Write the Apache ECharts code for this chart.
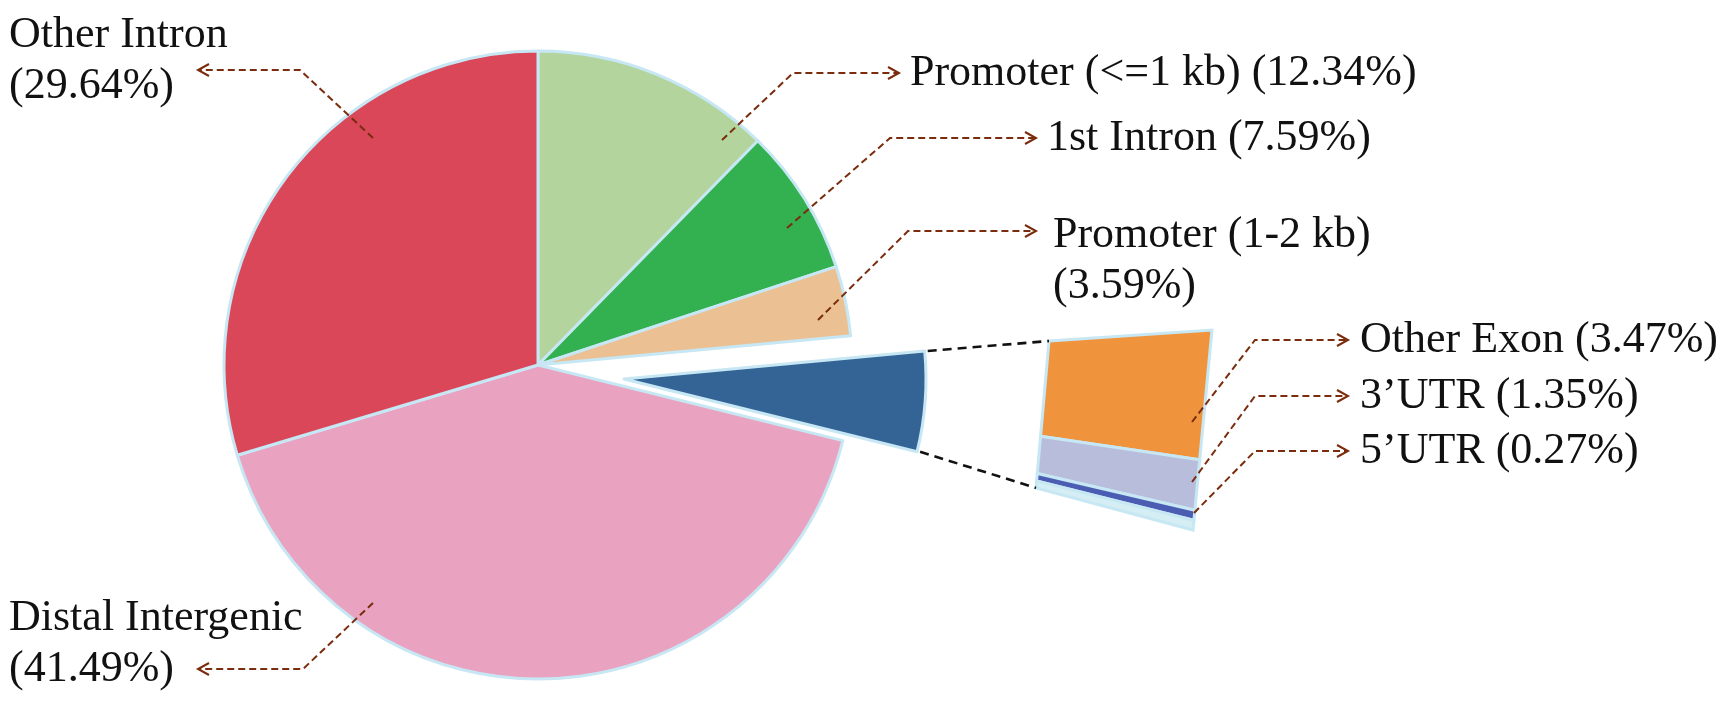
<!DOCTYPE html>
<html><head><meta charset="utf-8">
<script src="https://cdn.jsdelivr.net/npm/echarts@6/dist/echarts.min.js"></script>
<style>html,body{margin:0;padding:0;background:#fff}#c{width:1720px;height:704px}</style>
</head><body><div id="c"></div>
<script>
// ---------------- data ----------------
const pieCategories = ["Promoter (<=1 kb)", "1st Intron", "Promoter (1-2 kb)", "Exon/UTR", "Distal Intergenic", "Other Intron"];
const pieValues = [12.34, 7.59, 3.59, null, 41.49, 29.64];   // null = group, filled from the bar below
const groupIndex = 3;
const barCategories = ["Other Exon", "3’UTR", "5’UTR", ""];
const barValues = [3.47, 1.35, 0.27, 0.26];                  // last: unlabeled remainder at the bar foot

// ---------------- style ----------------
const pieColors = ["#b4d49e", "#33b150", "#ebc093", "#346496", "#e9a3c0", "#d94759"];
const barColors = ["#ef943d", "#b9bddc", "#4a5db3", "#d4eef4"];
const BORDER = "#c6e7f3";
const LEADER = "#7a2c0c";
const FONT = "Liberation Serif";
const FS = 44, LH = 51;
const TWO_LINE = new Set(["Other Intron", "Distal Intergenic", "Promoter (1-2 kb)"]);

const groupValue = barValues.reduce((a, b) => a + b, 0);
const values = pieValues.map((v, i) => i === groupIndex ? +groupValue.toFixed(2) : v);
const total = values.reduce((a, b) => a + b, 0);

// ---------------- layout ----------------
const PIE_CENTER = [538, 365], PIE_RADIUS = 314;
const EXPLODE_CENTER = [624, 379], EXPLODE_RADIUS = 302;
const BAR_BOX = {left: 1035, top: 330, width: 178, height: 200};
const QUAD = {tl: [1049, 341], tr: [1212, 330], br: [1193, 530], bl: [1036, 488]};

const PIE_LABEL_LAYOUT = {
  "Other Intron":      {text: [9, 61],    start: [373, 138], elbow: [300, 70],  tip: [198, 70]},
  "Distal Intergenic": {text: [9, 644],   start: [373, 603], elbow: [303, 669], tip: [198, 669]},
  "Promoter (<=1 kb)": {text: [910, 73],  start: [722, 140], elbow: [793, 73],  tip: [899, 73]},
  "1st Intron":        {text: [1047, 138],start: [787, 228], elbow: [890, 138], tip: [1036, 138]},
  "Promoter (1-2 kb)": {text: [1053, 261],start: [818, 320], elbow: [908, 231], tip: [1036, 231]}
};
const BAR_LABEL_LAYOUT = [
  {start: [1192, 422], elbow: [1255, 340], tip: [1348, 340], text: [1360, 340]},
  {start: [1192, 482], elbow: [1255, 396], tip: [1348, 396], text: [1360, 396]},
  {start: [1194, 513], elbow: [1255, 451], tip: [1348, 451], text: [1360, 451]},
  null
];

const pct = v => '(' + v.toFixed(2) + '%)';
const lerp = (a, b, t) => a + (b - a) * t;

function leaderElements(L) {
  const dir = L.tip[0] < L.elbow[0] ? -1 : 1;
  return [
    {type: 'polyline', silent: true, z: 100, shape: {points: [L.start, L.elbow, L.tip]},
     style: {stroke: LEADER, lineWidth: 2, lineDash: [7, 4], fill: null}},
    {type: 'polyline', silent: true, z: 100,
     shape: {points: [[L.tip[0] - dir * 11, L.tip[1] - 6], L.tip, [L.tip[0] - dir * 11, L.tip[1] + 6]]},
     style: {stroke: LEADER, lineWidth: 2, fill: null}}
  ];
}

// connectors from exploded slice corners to bar corners
function angleAt(frac) { return (90 - 360 * frac) * Math.PI / 180; }
let cumBefore = 0;
for (let i = 0; i < groupIndex; i++) cumBefore += values[i];
const a0 = angleAt(cumBefore / total), a1 = angleAt((cumBefore + values[groupIndex]) / total);
const cornerTop = [EXPLODE_CENTER[0] + EXPLODE_RADIUS * Math.cos(a0), EXPLODE_CENTER[1] - EXPLODE_RADIUS * Math.sin(a0)];
const cornerBot = [EXPLODE_CENTER[0] + EXPLODE_RADIUS * Math.cos(a1), EXPLODE_CENTER[1] - EXPLODE_RADIUS * Math.sin(a1)];

const graphics = [];
Object.keys(PIE_LABEL_LAYOUT).forEach(k => graphics.push(...leaderElements(PIE_LABEL_LAYOUT[k])));
graphics.push({type: 'line', silent: true, z: 100, shape: {x1: cornerTop[0] + 3, y1: cornerTop[1], x2: QUAD.tl[0], y2: QUAD.tl[1]},
  style: {stroke: '#111', lineWidth: 2.6, lineDash: [9, 6]}});
graphics.push({type: 'line', silent: true, z: 100, shape: {x1: cornerBot[0] + 3, y1: cornerBot[1], x2: QUAD.bl[0], y2: QUAD.bl[1]},
  style: {stroke: '#111', lineWidth: 2.6, lineDash: [9, 6]}});

// bar data: [x, start, end]
const barData = [];
let acc = 0;
barValues.forEach(v => { barData.push([0, acc, acc + v]); acc += v; });

const mainData = pieCategories.map((n, i) => {
  if (i === groupIndex) return {name: n, value: values[i], itemStyle: {color: 'rgba(0,0,0,0)', borderWidth: 0}, label: {show: false}};
  return {name: n, value: values[i], itemStyle: {color: pieColors[i]}};
});
const explodeData = pieCategories.map((n, i) => {
  if (i === groupIndex) return {name: n, value: values[i], itemStyle: {color: pieColors[i], borderColor: BORDER, borderWidth: 3}};
  return {name: n, value: values[i], itemStyle: {color: 'rgba(0,0,0,0)', borderWidth: 0}};
});

const chart = echarts.init(document.getElementById('c'), null, {renderer: 'canvas'});
chart.setOption({
  animation: false,
  backgroundColor: '#fff',
  grid: {left: BAR_BOX.left, top: BAR_BOX.top, width: BAR_BOX.width, height: BAR_BOX.height},
  xAxis: {type: 'value', min: 0, max: 1, show: false},
  yAxis: {type: 'value', min: 0, max: groupValue, inverse: true, show: false},
  graphic: graphics,
  series: [
    {
      type: 'pie', center: PIE_CENTER, radius: [0, PIE_RADIUS], startAngle: 90, clockwise: true,
      avoidLabelOverlap: false, silent: true,
      itemStyle: {borderColor: BORDER, borderWidth: 3},
      label: {
        show: true, position: 'outside', fontFamily: FONT, fontSize: FS, lineHeight: LH, color: '#111',
        formatter: p => TWO_LINE.has(p.name) ? p.name + '\n' + pct(p.value) : p.name + ' ' + pct(p.value)
      },
      labelLine: {show: false},
      labelLayout: function (params) {
        const L = PIE_LABEL_LAYOUT[pieCategories[params.dataIndex]];
        if (!L) return {};
        return {x: L.text[0], y: L.text[1], align: 'left', verticalAlign: 'middle'};
      },
      emphasis: {disabled: true},
      data: mainData
    },
    {
      type: 'pie', center: EXPLODE_CENTER, radius: [0, EXPLODE_RADIUS], startAngle: 90, clockwise: true,
      silent: true, label: {show: false}, labelLine: {show: false}, emphasis: {disabled: true},
      data: explodeData
    },
    {
      type: 'custom', coordinateSystem: 'cartesian2d', silent: true, z: 5,
      encode: {x: 0, y: [1, 2]},
      data: barData,
      renderItem: function (params, api) {
        const i = params.dataIndex;
        const cs = params.coordSys;
        const y0 = api.coord([0, api.value(1)])[1];
        const y1 = api.coord([0, api.value(2)])[1];
        const t0 = (y0 - cs.y) / cs.height, t1 = (y1 - cs.y) / cs.height;
        const Lp = t => [lerp(QUAD.tl[0], QUAD.bl[0], t), lerp(QUAD.tl[1], QUAD.bl[1], t)];
        const Rp = t => [lerp(QUAD.tr[0], QUAD.br[0], t), lerp(QUAD.tr[1], QUAD.br[1], t)];
        const children = [{
          type: 'polygon', shape: {points: [Lp(t0), Rp(t0), Rp(t1), Lp(t1)]},
          style: {fill: barColors[i], stroke: BORDER, lineWidth: 3}
        }];
        const L = BAR_LABEL_LAYOUT[i];
        if (L && barCategories[i]) {
          children.push(...leaderElements(L));
          children.push({type: 'text', style: {
            text: barCategories[i] + ' ' + pct(barValues[i]), x: L.text[0], y: L.text[1],
            fontFamily: FONT, fontSize: FS, fill: '#111', align: 'left', verticalAlign: 'middle'}});
        }
        return {type: 'group', children: children};
      }
    }
  ]
});
</script>
</body></html>
